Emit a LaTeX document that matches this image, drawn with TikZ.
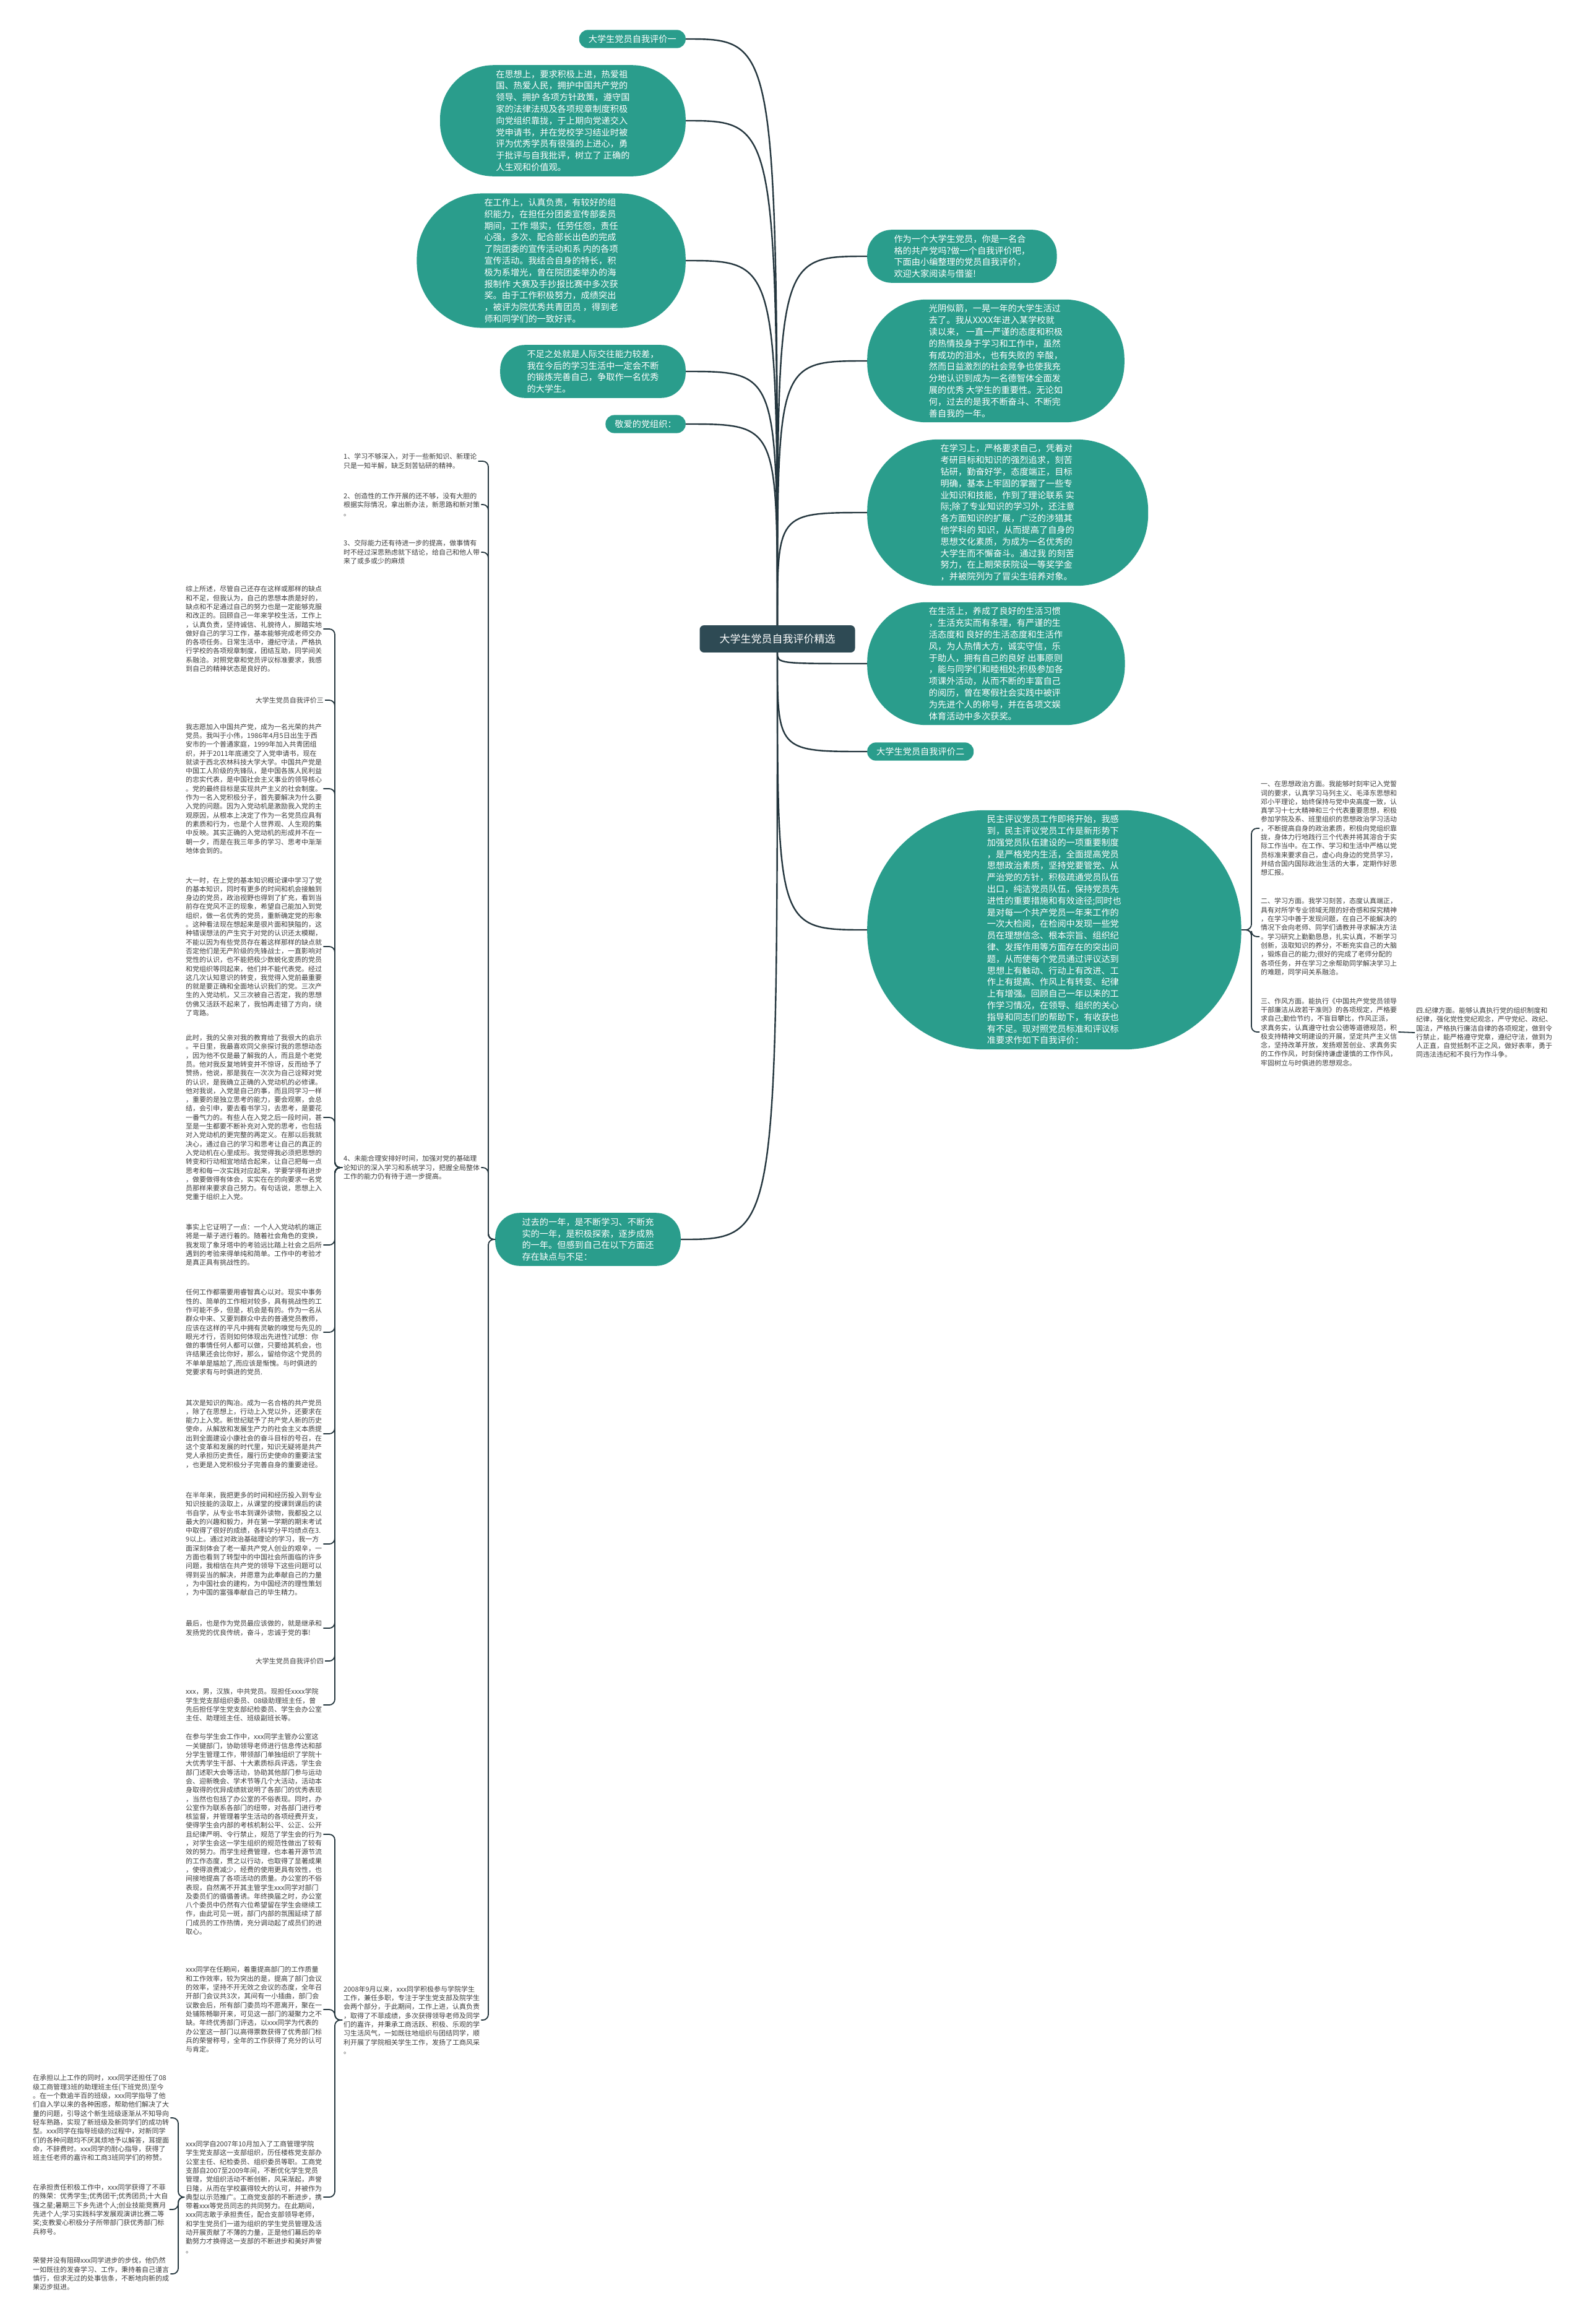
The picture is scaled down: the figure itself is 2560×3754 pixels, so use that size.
\documentclass[tikz,border=0pt]{standalone}
\usepackage{fontspec}
\setmainfont{Noto Sans CJK SC}
\definecolor{bubbleteal}{HTML}{2A9D8C}
\definecolor{rootslate}{HTML}{2E4A54}
\definecolor{linkdark}{HTML}{24363E}
\definecolor{paragray}{HTML}{3C3C3C}
\newcommand\bubblesize{\fontsize{14.2}{18.8}\selectfont}
\newcommand\parasize{\fontsize{11}{14.3}\selectfont}
\newcommand\rootsize{\fontsize{17}{20}\selectfont}

\begin{document}
\begin{tikzpicture}[x=1pt, y=-1pt,
  bubble/.style={rectangle, rounded corners={(9.4*#1+2)*1pt}, fill=bubbleteal, text=white, font=\bubblesize, align=left, inner xsep={(9.4*#1+5.7)*1pt}, inner ysep=8pt},
  pill/.style={rectangle, rounded corners=14pt, fill=bubbleteal, text=white, font=\bubblesize, inner xsep=15pt, inner ysep=8pt},
  para/.style={font=\parasize, text=paragray, align=left, inner sep=2pt},
  rootbox/.style={rectangle, rounded corners=7pt, fill=rootslate, text=white, font=\rootsize, inner xsep=32pt, inner ysep=14pt},
  branch/.style={draw=linkdark, line width=2.4pt},
  twig/.style={draw=linkdark, line width=1.8pt, rounded corners=9pt}]
  \fill[white] (0,0) rectangle (2560,3754);
  \useasboundingbox (0,0) rectangle (2560,3754);

  \node (root) [rootbox] at (1256,1032) {大学生党员自我评价精选};

  \node (one) [pill, anchor=east] at (1108,63) {大学生党员自我评价一};
  \node (thought) [bubble=9, anchor=east] at (1108,195) {在思想上，要求积极上进，热爱祖\\国、热爱人民，拥护中国共产党的\\领导、拥护 各项方针政策，遵守国\\家的法律法规及各项规章制度积极\\向党组织靠拢，于上期向党递交入\\党申请书，并在党校学习结业时被\\评为优秀学员有很强的上进心，勇\\于批评与自我批评，树立了 正确的\\人生观和价值观。};
  \node (work) [bubble=11, anchor=east] at (1108,421) {在工作上，认真负责，有较好的组\\织能力，在担任分团委宣传部委员\\期间，工作 塌实，任劳任怨，责任\\心强，多次、配合部长出色的完成\\了院团委的宣传活动和系 内的各项\\宣传活动。我结合自身的特长，积\\极为系增光，曾在院团委举办的海\\报制作 大赛及手抄报比赛中多次获\\奖。由于工作积极努力，成绩突出\\，被评为院优秀共青团员 ，得到老\\师和同学们的一致好评。};
  \node (weak) [bubble=4, anchor=east] at (1108,600) {不足之处就是人际交往能力较差，\\我在今后的学习生活中一定会不断\\的锻炼完善自己，争取作一名优秀\\的大学生。};
  \node (dear) [pill, anchor=east] at (1108,685) {敬爱的党组织：};
  \node (past) [bubble=4, anchor=west] at (800,2002) {过去的一年，是不断学习、不断充\\实的一年，是积极探索，逐步成熟\\的一年。但感到自己在以下方面还\\存在缺点与不足：};

  \node (intro) [bubble=4, anchor=west] at (1401,414) {作为一个大学生党员，你是一名合\\格的共产党吗?做一个自我评价吧，\\下面由小编整理的党员自我评价，\\欢迎大家阅读与借鉴!};
  \node (time) [bubble=10, anchor=west] at (1401,583) {光阴似箭，一晃一年的大学生活过\\去了。我从XXXX年进入某学校就\\读以来， 一直一严谨的态度和积极\\的热情投身于学习和工作中，虽然\\有成功的泪水，也有失败的 辛酸，\\然而日益激烈的社会竞争也使我充\\分地认识到成为一名德智体全面发\\展的优秀 大学生的重要性。无论如\\何，过去的是我不断奋斗、不断完\\善自我的一年。};
  \node (study) [bubble=12, anchor=west] at (1401,828) {在学习上，严格要求自己，凭着对\\考研目标和知识的强烈追求，刻苦\\钻研，勤奋好学，态度端正，目标\\明确，基本上牢固的掌握了一些专\\业知识和技能，作到了理论联系 实\\际;除了专业知识的学习外，还注意\\各方面知识的扩展，广泛的涉猎其\\他学科的 知识，从而提高了自身的\\思想文化素质，为成为一名优秀的\\大学生而不懈奋斗。通过我 的刻苦\\努力，在上期荣获院设一等奖学金\\，并被院列为了冒尖生培养对象。};
  \node (life) [bubble=10, anchor=west] at (1401,1072) {在生活上，养成了良好的生活习惯\\，生活充实而有条理，有严谨的生\\活态度和 良好的生活态度和生活作\\风，为人热情大方，诚实守信，乐\\于助人，拥有自己的良好 出事原则\\，能与同学们和睦相处;积极参加各\\项课外活动，从而不断的丰富自己\\的阅历，曾在寒假社会实践中被评\\为先进个人的称号，并在各项文娱\\体育活动中多次获奖。};
  \node (two) [pill, anchor=west] at (1401,1214) {大学生党员自我评价二};
  \node (review) [bubble=20, anchor=west] at (1401,1502) {民主评议党员工作即将开始，我感\\到，民主评议党员工作是新形势下\\加强党员队伍建设的一项重要制度\\，是严格党内生活，全面提高党员\\思想政治素质，坚持党要管党、从\\严治党的方针，积极疏通党员队伍\\出口，纯洁党员队伍，保持党员先\\进性的重要措施和有效途径;同时也\\是对每一个共产党员一年来工作的\\一次大检阅，在检阅中发现一些党\\员在理想信念、根本宗旨、组织纪\\律、发挥作用等方面存在的突出问\\题，从而使每个党员通过评议达到\\思想上有触动、行动上有改进、工\\作上有提高、作风上有转变、纪律\\上有增强。回顾自己一年以来的工\\作学习情况，在领导、组织的关心\\指导和同志们的帮助下，有收获也\\有不足。现对照党员标准和评议标\\准要求作如下自我评价：};

  \node (politics) [para, anchor=west] at (2035,1338) {一、在思想政治方面。我能够时刻牢记入党誓\\词的要求，认真学习马列主义、毛泽东思想和\\邓小平理论，始终保持与党中央高度一致，认\\真学习十七大精神和三个代表重要思想，积极\\参加学院及系、班里组织的思想政治学习活动\\，不断提高自身的政治素质，积极向党组织靠\\拢，身体力行地践行三个代表并将其溶合于实\\际工作当中。在工作、学习和生活中严格以党\\员标准来要求自己，虚心向身边的党员学习，\\并结合国内国际政治生活的大事，定期作好思\\想汇报。};
  \node (learning) [para, anchor=west] at (2035,1513) {二、学习方面。我学习刻苦，态度认真端正，\\具有对所学专业领域无限的好奇感和探究精神\\，在学习中善于发现问题，在自己不能解决的\\情况下会向老师、同学们请教并寻求解决方法\\。学习研究上勤勤恳恳，扎实认真，不断学习\\创新，汲取知识的养分，不断充实自己的大脑\\，锻炼自己的能力;很好的完成了老师分配的\\各项任务，并在学习之余帮助同学解决学习上\\的难题，同学间关系融洽。};
  \node (conduct) [para, anchor=west] at (2035,1667) {三、作风方面。能执行《中国共产党党员领导\\干部廉洁从政若干准则》的各项规定，严格要\\求自己;勤俭节约，不盲目攀比，作风正派，\\求真务实，认真遵守社会公德等道德规范，积\\极支持精神文明建设的开展，坚定共产主义信\\念，坚持改革开放，发扬艰苦创业、求真务实\\的工作作风，时刻保持谦虚谨慎的工作作风，\\牢固树立与时俱进的思想观念。};
  \node (discipline) [para, anchor=west] at (2286,1668) {四.纪律方面。能够认真执行党的组织制度和\\纪律，强化党性党纪观念，严守党纪、政纪、\\国法，严格执行廉洁自律的各项规定，做到令\\行禁止，能严格遵守党章，遵纪守法，做到为\\人正直，自觉抵制不正之风，做好表率，勇于\\同违法违纪和不良行为作斗争。};

  \node (lackone) [para, anchor=west] at (553,745) {1、学习不够深入，对于一些新知识、新理论\\只是一知半解，缺乏刻苦钻研的精神。};
  \node (lacktwo) [para, anchor=west] at (553,815) {2、创造性的工作开展的还不够，没有大胆的\\根据实际情况，拿出新办法，新思路和新对策\\。};
  \node (lackthree) [para, anchor=west] at (553,892) {3、交际能力还有待进一步的提高，做事情有\\时不经过深思熟虑就下结论，给自己和他人带\\来了或多或少的麻烦};
  \node (lackfour) [para, anchor=west] at (553,1886) {4、未能合理安排好时间，加强对党的基础理\\论知识的深入学习和系统学习，把握全局整体\\工作的能力仍有待于进一步提高。};
  \node (since) [para, anchor=west] at (553,3263) {2008年9月以来，xxx同学积极参与学院学生\\工作，兼任多职，专注于学生党支部及院学生\\会两个部分，于此期间，工作上进，认真负责\\，取得了不菲成绩，多次获得领导老师及同学\\们的嘉许，并秉承工商活跃、积极、乐观的学\\习生活风气，一如既往地组织与团结同学，顺\\利开展了学院相关学生工作，发扬了工商风采\\。};

  \node (summary) [para, anchor=west] at (298,1016) {综上所述，尽管自己还存在这样或那样的缺点\\和不足，但我认为，自己的思想本质是好的，\\缺点和不足通过自己的努力也是一定能够克服\\和改正的。回顾自己一年来学校生活，工作上\\，认真负责，坚持诚信、礼貌待人，脚踏实地\\做好自己的学习工作，基本能够完成老师交办\\的各项任务。日常生活中，遵纪守法，严格执\\行学校的各项规章制度，团结互助，同学间关\\系融洽。对照党章和党员评议标准要求，我感\\到自己的精神状态是良好的。};
  \node (three) [para, anchor=east] at (525,1131) {大学生党员自我评价三};
  \node (wish) [para, anchor=west] at (298,1274) {我志愿加入中国共产党，成为一名光荣的共产\\党员。我叫于小伟，1986年4月5日出生于西\\安市的一个普通家庭，1999年加入共青团组\\织，并于2011年底递交了入党申请书，现在\\就读于西北农林科技大学大学。中国共产党是\\中国工人阶级的先锋队，是中国各族人民利益\\的忠实代表，是中国社会主义事业的领导核心\\。党的最终目标是实现共产主义的社会制度。\\作为一名入党积极分子，首先要解决为什么要\\入党的问题。因为入党动机是激励我入党的主\\观原因，从根本上决定了作为一名党员应具有\\的素质和行为，也是个人世界观、人生观的集\\中反映。其实正确的入党动机的形成并不在一\\朝一夕，而是在我三年多的学习、思考中渐渐\\地体会到的。};
  \node (freshman) [para, anchor=west] at (298,1529) {大一时，在上党的基本知识概论课中学习了党\\的基本知识，同时有更多的时间和机会接触到\\身边的党员，政治视野也得到了扩充，看到当\\前存在党风不正的现象，希望自己能加入到党\\组织，做一名优秀的党员，重新确定党的形象\\。这种看法现在想起来是很片面和狭隘的，这\\种错误想法的产生究于对党的认识还太模糊，\\不能以因为有些党员存在着这样那样的缺点就\\否定他们是无产阶级的先锋战士，一直影响对\\党性的认识，也不能把极少数蜕化变质的党员\\和党组织等同起来，他们并不能代表党。经过\\这几次认知意识的转变，我觉得入党前最重要\\的就是要正确和全面地认识我们的党。三次产\\生的入党动机，又三次被自己否定，我的思想\\仿佛又活跃不起来了，我怕再走错了方向，绕\\了弯路。};
  \node (father) [para, anchor=west] at (298,1805) {此时，我的父亲对我的教育给了我很大的启示\\。平日里，我最喜欢同父亲探讨我的思想动态\\，因为他不仅是最了解我的人，而且是个老党\\员。他对我反复地转变并不惊讶，反而给予了\\赞扬，他说，那是我在一次次为自己诠释对党\\的认识，是我确立正确的入党动机的必修课。\\他对我说，入党是自己的事，而且同学习一样\\，重要的是独立思考的能力，要会观察，会总\\结，会引申，要去看书学习，去思考，是要花\\一番气力的。有些人在入党之后一段时间，甚\\至是一生都要不断补充对入党的思考，也包括\\对入党动机的更完整的再定义。在那以后我就\\决心，通过自己的学习和思考让自己的真正的\\入党动机在心里成形。我觉得我必须把思想的\\转变和行动相宜地结合起来，让自己把每一点\\思考和每一次实践对应起来，学要学得有进步\\，做要做得有体会，实实在在的向要求一名党\\员那样来要求自己努力。有句话说，思想上入\\党重于组织上入党。};
  \node (fact) [para, anchor=west] at (298,2011) {事实上它证明了一点：一个人入党动机的端正\\将是一辈子进行着的。随着社会角色的变换，\\我发现了象牙塔中的考验远比踏上社会之后所\\遇到的考验来得单纯和简单。工作中的考验才\\是真正具有挑战性的。};
  \node (anywork) [para, anchor=west] at (298,2152) {任何工作都需要用睿智真心以对。现实中事务\\性的、简单的工作相对较多，具有挑战性的工\\作可能不多，但是，机会是有的。作为一名从\\群众中来、又要到群众中去的普通党员教师，\\应该在这样的平凡中拥有灵敏的嗅觉与先见的\\眼光才行，否则如何体现出先进性?试想：你\\做的事情任何人都可以做，只要给其机会，也\\许结果还会比你好，那么，留给你这个党员的\\不单单是尴尬了,而应该是惭愧。与时俱进的\\党要求有与时俱进的党员.};
  \node (knowledge) [para, anchor=west] at (298,2316) {其次是知识的陶冶。成为一名合格的共产党员\\，除了在思想上，行动上入党以外，还要求在\\能力上入党。新世纪赋予了共产党人新的历史\\使命，从解放和发展生产力的社会主义本质提\\出到全面建设小康社会的奋斗目标的号召，在\\这个变革和发展的时代里，知识无疑将是共产\\党人承担历史责任，履行历史使命的重要法宝\\，也更是入党积极分子完善自身的重要途径。};
  \node (halfyear) [para, anchor=west] at (298,2494) {在半年来，我把更多的时间和经历投入到专业\\知识技能的汲取上，从课堂的授课到课后的读\\书自学，从专业书本到课外读物，我都投之以\\最大的兴趣和毅力，并在第一学期的期末考试\\中取得了很好的成绩，各科学分平均绩点在3.\\9以上。通过对政治基础理论的学习，我一方\\面深刻体会了老一辈共产党人创业的艰辛，一\\方面也看到了转型中的中国社会所面临的许多\\问题，我相信在共产党的领导下这些问题可以\\得到妥当的解决，并愿意为此奉献自己的力量\\，为中国社会的建构，为中国经济的理性策划\\，为中国的富强奉献自己的毕生精力。};
  \node (finally) [para, anchor=west] at (298,2630) {最后，也是作为党员最应该做的，就是继承和\\发扬党的优良传统，奋斗，忠诚于党的事!};
  \node (four) [para, anchor=east] at (525,2683) {大学生党员自我评价四};
  \node (profile) [para, anchor=west] at (298,2754) {xxx，男，汉族，中共党员。现担任xxxx学院\\学生党支部组织委员、08级助理班主任，曾\\先后担任学生党支部纪检委员、学生会办公室\\主任、助理班主任、班级副班长等。};

  \node (union) [para, anchor=west] at (298,2963) {在参与学生会工作中，xxx同学主管办公室这\\一关键部门，协助领导老师进行信息传达和部\\分学生管理工作，带领部门单独组织了学院十\\大优秀学生干部、十大素质标兵评选，学生会\\部门述职大会等活动，协助其他部门参与运动\\会、迎新晚会、学术节等几个大活动，活动本\\身取得的优异成绩就说明了各部门的优秀表现\\，当然也包括了办公室的不俗表现。同时，办\\公室作为联系各部门的纽带，对各部门进行考\\核监督，并管理着学生活动的各项经费开支，\\使得学生会内部的考核机制公平、公正、公开\\且纪律严明、令行禁止，规范了学生会的行为\\，对学生会这一学生组织的规范性做出了较有\\效的努力。而学生经费管理，也本着开源节流\\的工作态度，贯之以行动，也取得了显著成果\\，使得浪费减少，经费的使用更具有效性，也\\间接地提高了各项活动的质量。办公室的不俗\\表现，自然离不开其主管学生xxx同学对部门\\及委员们的循循善诱。年终换届之时，办公室\\八个委员中仍然有六位希望留在学生会继续工\\作，由此可见一斑，部门内部的氛围延续了部\\门成员的工作热情，充分调动起了成员们的进\\取心。};
  \node (office) [para, anchor=west] at (298,3246) {xxx同学在任期间，着重提高部门的工作质量\\和工作效率，较为突出的是，提高了部门会议\\的效率，坚持不开无效之会议的态度，全年召\\开部门会议共3次，其间有一小插曲，部门会\\议散会后，所有部门委员均不愿离开，聚在一\\处铺陈畅聊开来，可见这一部门的凝聚力之不\\缺。年终优秀部门评选，以xxx同学为代表的\\办公室这一部门以高得票数获得了优秀部门标\\兵的荣誉称号，全年的工作获得了充分的认可\\与肯定。};
  \node (branchwork) [para, anchor=west] at (298,3549) {xxx同学自2007年10月加入了工商管理学院\\学生党支部这一支部组织，历任楼栋党支部办\\公室主任、纪检委员、组织委员等职。工商党\\支部自2007至2009年间，不断优化学生党员\\管理，党组织活动不断创新，风采渐起，声誉\\日隆，从而在学校赢得较大的认可，并被作为\\典型以示范推广。工商党支部的不断进步，携\\带着xxx等党员同志的共同努力。在此期间，\\xxx同志敢于承担责任，配合支部领导老师，\\和学生党员们一道为组织的学生党员管理及活\\动开展贡献了不薄的力量，正是他们幕后的辛\\勤努力才换得这一支部的不断进步和美好声誉\\。};

  \node (tutor) [para, anchor=west] at (51,3421) {在承担以上工作的同时，xxx同学还担任了08\\级工商管理3班的助理班主任(下班党员)至今\\。在一个数逾半百的班级，xxx同学指导了他\\们自入学以来的各种困惑，帮助他们解决了大\\量的问题，引导这个新生班级逐渐从不知导向\\轻车熟路，实现了新班级及新同学们的成功转\\型。xxx同学在指导班级的过程中，对新同学\\们的各种问题均不厌其烦地予以解答，耳提面\\命，不辞费时。xxx同学的耐心指导，获得了\\班主任老师的嘉许和工商3班同学们的称赞。};
  \node (honors) [para, anchor=west] at (51,3569) {在承担责任积极工作中，xxx同学获得了不菲\\的殊荣：优秀学生;优秀团干;优秀团员;十大自\\强之星;暑期三下乡先进个人;创业技能竞赛月\\先进个人;学习实践科学发展观演讲比赛二等\\奖;支教爱心积极分子所带部门获优秀部门标\\兵称号。};
  \node (onward) [para, anchor=west] at (51,3673) {荣誉并没有阻碍xxx同学进步的步伐，他仍然\\一如既往的发奋学习、工作，秉持着自己谨言\\慎行，但求无过的处事信条，不断地向新的成\\果迈步挺进。};

  \coordinate (jpast) at (789,2002);
  \coordinate (jfour) at (541,1886);
  \coordinate (jsince) at (541,3263);
  \coordinate (jbranch) at (288,3549);
  \coordinate (jreview) at (2022,1502);

  \foreach \kid in {one,thought,work,weak,dear,past}
    \draw[branch] (root) .. controls (root |- \kid) .. (\kid.east);
  \foreach \kid in {intro,time,study,life,two,review}
    \draw[branch] (root) .. controls (root |- \kid) .. (\kid.west);

  \foreach \kid in {lackone,lacktwo,lackthree,lackfour,since}
    \draw[twig] (past.west) -- (jpast) |- (\kid.east);
  \foreach \kid in {summary,three,wish,freshman,father,fact,anywork,knowledge,halfyear,finally,four,profile}
    \draw[twig] (lackfour.west) -- (jfour) |- (\kid.east);
  \foreach \kid in {union,office,branchwork}
    \draw[twig] (since.west) -- (jsince) |- (\kid.east);
  \foreach \kid in {tutor,honors,onward}
    \draw[twig] (branchwork.west) -- (jbranch) |- (\kid.east);
  \foreach \kid in {politics,learning,conduct}
    \draw[twig] (review.east) -- (jreview) |- (\kid.west);
  \draw[twig] (conduct.east) -- (discipline.west);
\end{tikzpicture}
\end{document}
